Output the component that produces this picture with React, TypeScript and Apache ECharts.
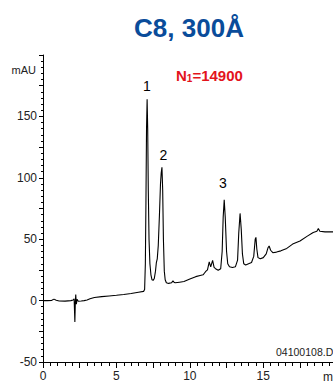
import React, { useEffect, useRef } from "react";
import * as echarts from "echarts";

const title = "C8, 300Å";
const plateLabel = "N";
const plateSub = "1";
const plateValue = "=14900";
const fileName = "04100108.D";
const yUnit = "mAU";
const xUnit = "min";
const peakNames = ["1", "2", "3"];

// retention time (min)
const times = [
  0, 0.3, 0.6, 0.75, 0.9, 1.1, 1.5, 1.9, 2.05, 2.12, 2.17, 2.2, 2.23, 2.27, 2.32, 2.4, 2.6, 2.8,
  3.0, 3.2, 3.5, 4.0, 4.5, 5.0, 5.5, 6.0, 6.5, 6.85,
  6.92, 6.97, 7.01, 7.05, 7.09, 7.13, 7.17, 7.22, 7.28, 7.35, 7.42, 7.5, 7.58, 7.66, 7.72, 7.78,
  7.85, 7.93, 8.0, 8.05, 8.1, 8.15, 8.2, 8.26, 8.32, 8.4, 8.55, 8.75, 8.85, 8.92, 9.0, 9.3, 9.6,
  10.0, 10.4, 10.7, 10.9, 11.0, 11.1, 11.2, 11.32, 11.42, 11.55, 11.65, 11.75, 11.93,
  12.1, 12.2, 12.27, 12.34, 12.41, 12.5, 12.58, 12.7, 12.9, 13.1, 13.25, 13.33, 13.42, 13.5,
  13.58, 13.67, 13.8, 14.0, 14.2, 14.35, 14.45, 14.5, 14.56, 14.64, 14.8, 15.0, 15.2, 15.32,
  15.4, 15.5, 15.65, 15.9, 16.2, 16.6, 17.0, 17.5, 18.0, 18.4, 18.65, 18.75, 18.85, 19.2, 19.7, 20,
];
// absorbance (mAU)
const absorbance = [
  0, 0, 0.2, 1.2, 0.3, -0.3, -0.4, 0, 0.5, 1.5, -17.5, -2, 5, -3, 1, -0.5, -0.3, 0,
  0.5, 1.5, 2.5, 3.2, 3.8, 4.3, 5.0, 5.8, 6.8, 7.5,
  9, 30, 80, 140, 164, 140, 90, 50, 30, 21, 17, 16.5, 18, 24, 31, 34,
  45, 70, 95, 104, 108.5, 90, 50, 24, 17, 14.5, 14, 14.5, 16, 15, 14.5, 15, 15.5,
  17.5, 19.5, 20.5, 21, 22.5, 24, 25, 31.5, 27.4, 32.8, 27, 26, 24.7,
  26, 40, 68, 82, 68, 40, 30, 27.5, 27, 27.5, 33, 55, 71, 58,
  38, 30, 29, 30, 31, 36, 50, 51.5, 42, 35, 34, 35, 38, 43,
  44.5, 41, 39, 39.5, 40.5, 42.5, 46, 48.5, 52.5, 55.5, 56.5, 58.7, 56.5, 56, 56, 56,
];

export default function App() {
  const ref = useRef<HTMLDivElement>(null);
  useEffect(() => {
    document.documentElement.style.overflow = "hidden";
    document.body.style.overflow = "hidden";
    const chart = echarts.init(ref.current!, null, { renderer: "svg" });
    const font = "'Liberation Sans', Arial, Helvetica, sans-serif";
    const data = times.map((t, i) => [t, absorbance[i]]);
    chart.setOption({
      animation: false,
      textStyle: { fontFamily: font },
      grid: { left: 43, right: 3.3, top: 55, bottom: 21 },
      xAxis: {
        type: "value",
        min: 0,
        max: 20,
        interval: 2.5,
        axisLine: { show: true, onZero: false, lineStyle: { color: "#000", width: 1 } },
        axisTick: { show: true, length: 6, lineStyle: { color: "#000", width: 1 } },
        minorTick: { show: true, splitNumber: 5, length: 4, lineStyle: { color: "#000", width: 1 } },
        splitLine: { show: false },
        axisLabel: {
          color: "#222",
          fontSize: 12,
          formatter: (v: number) => (v % 5 === 0 && v !== 20 ? String(v) : ""),
        },
      },
      yAxis: {
        type: "value",
        min: -50,
        max: 200,
        interval: 25,
        axisLine: { show: true, onZero: false, lineStyle: { color: "#000", width: 1 } },
        axisTick: { show: true, length: 4, lineStyle: { color: "#000", width: 1 } },
        minorTick: { show: true, splitNumber: 5, length: 2, lineStyle: { color: "#000", width: 1 } },
        splitLine: { show: false },
        axisLabel: {
          color: "#222",
          fontSize: 12,
          margin: 6,
          formatter: (v: number) => (v % 50 === 0 && v !== 200 ? String(v) : ""),
        },
      },
      series: [
        {
          type: "line",
          data,
          symbol: "none",
          lineStyle: { color: "#000", width: 1.1 },
        },
      ],
      graphic: [
        {
          type: "text",
          x: 189,
          y: 28,
          style: {
            text: title,
            font: `bold 26px ${font}`,
            fill: "#0a4c9a",
            align: "center",
            verticalAlign: "middle",
          },
        },
        {
          type: "text",
          x: 176,
          y: 75,
          style: {
            text: `{n|${plateLabel}}{s|${plateSub}}{n|${plateValue}}`,
            verticalAlign: "middle",
            rich: {
              n: { font: `bold 15px ${font}`, fill: "#e3141c" },
              s: { font: `bold 10px ${font}`, fill: "#e3141c", padding: [6, 0, 0, 0] },
            },
          },
        },
        {
          type: "text",
          x: 36,
          y: 70,
          style: { text: yUnit, font: `11px ${font}`, fill: "#222", align: "right", verticalAlign: "middle" },
        },
        {
          type: "text",
          x: 323,
          y: 377,
          style: { text: xUnit, font: `12px ${font}`, fill: "#222", align: "left", verticalAlign: "middle" },
        },
        {
          type: "text",
          x: 276,
          y: 352,
          style: { text: fileName, font: `10.5px ${font}`, fill: "#222", align: "left", verticalAlign: "middle" },
        },
        {
          type: "text",
          x: 147,
          y: 86,
          style: { text: peakNames[0], font: `14px ${font}`, fill: "#000", align: "center", verticalAlign: "middle" },
        },
        {
          type: "text",
          x: 163.5,
          y: 155,
          style: { text: peakNames[1], font: `14px ${font}`, fill: "#000", align: "center", verticalAlign: "middle" },
        },
        {
          type: "text",
          x: 223,
          y: 183,
          style: { text: peakNames[2], font: `14px ${font}`, fill: "#000", align: "center", verticalAlign: "middle" },
        },
      ],
    });
    return () => chart.dispose();
  }, []);
  return (
    <div
      ref={ref}
      style={{ position: "fixed", left: 0, top: 0, width: 340, height: 383, background: "#fff" }}
    />
  );
}
